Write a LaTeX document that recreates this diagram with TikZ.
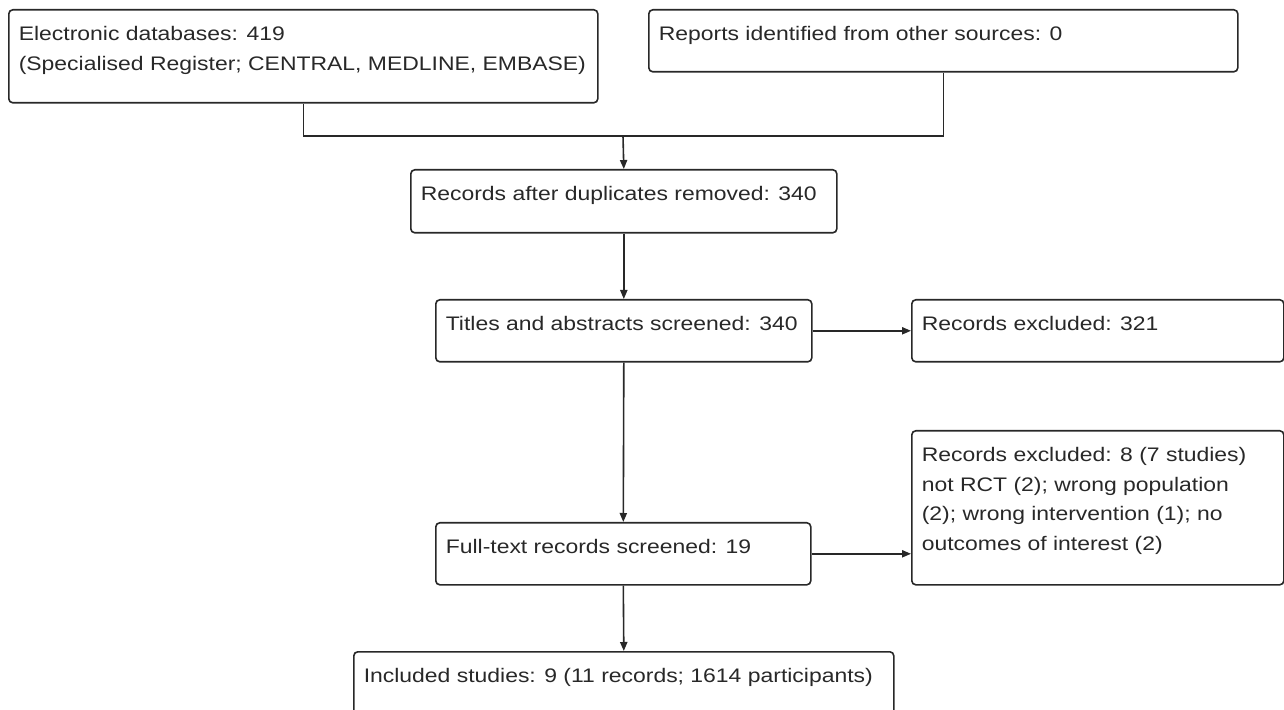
\documentclass[tikz,border=0pt]{standalone}
\usepackage{fontspec}
\setmainfont[FakeStretch=1.17]{Liberation Sans}
\usepackage{tikz}
\usetikzlibrary{arrows.meta,positioning,calc}
\definecolor{prline}{RGB}{40,40,40}
\definecolor{prtext}{RGB}{40,40,40}
\newcommand{\prfont}{\fontsize{9.8pt}{14.75pt}\selectfont}
\newcommand{\stagetext}[3]{\parbox[t][#2][t]{#1}{\raggedright\leftskip=5pt\rule{0pt}{15.5pt}#3}}
\tikzset{
  stage/.style={rectangle, rounded corners=2pt, draw=prline, line width=0.8pt, anchor=north west, inner sep=0pt, text=prtext, font=\prfont},
  arrow/.style={-{Triangle[length=4.5pt,width=3.6pt]}, line width=0.8pt, draw=prline},
  line/.style={line width=0.8pt, draw=prline}
}

\begin{document}
\begin{tikzpicture}[x=0.5pt,y=-0.5pt]
\clip (0,0) rectangle (1284,710);
\node[stage] (search) at (8,9) {\stagetext{294.5pt}{46.5pt}{Electronic databases: 419\\(Specialised Register; CENTRAL, MEDLINE, EMBASE)}};
\node[stage] (other) at (648,9) {\stagetext{294.5pt}{31pt}{Reports identified from other sources: 0}};
\node[stage] (dedup) at (410,169) {\stagetext{213pt}{31.5pt}{Records after duplicates removed: 340}};
\node[stage] (screen) at (435,299) {\stagetext{188pt}{31pt}{Titles and abstracts screened: 340}};
\node[stage] (excl1) at (911,299) {\stagetext{186pt}{31pt}{Records excluded: 321}};
\node[stage] (fulltext) at (435,522) {\stagetext{187.5pt}{31pt}{Full-text records screened: 19}};
\node[stage] (excl2) at (911,430) {\stagetext{186pt}{77pt}{Records excluded: 8 (7 studies)\\not RCT (2); wrong population\\(2); wrong intervention (1); no\\outcomes of interest (2)}};
\node[stage] (included) at (353,651) {\stagetext{270pt}{40pt}{Included studies: 9 (11 records; 1614 participants)}};
\coordinate (merge) at (623,136);
\draw[line] (search.south) |- (merge) -| (other.south);
\draw[arrow] (merge) -- (dedup.north);
\draw[arrow] (dedup.south) -- (screen.north);
\draw[arrow] (screen.east) -- (excl1.west);
\draw[arrow] (screen.south) -- (fulltext.north);
\draw[arrow] (fulltext.east) -- (fulltext.east -| excl2.west);
\draw[arrow] (fulltext.south) -- (included.north);
\end{tikzpicture}
\end{document}
